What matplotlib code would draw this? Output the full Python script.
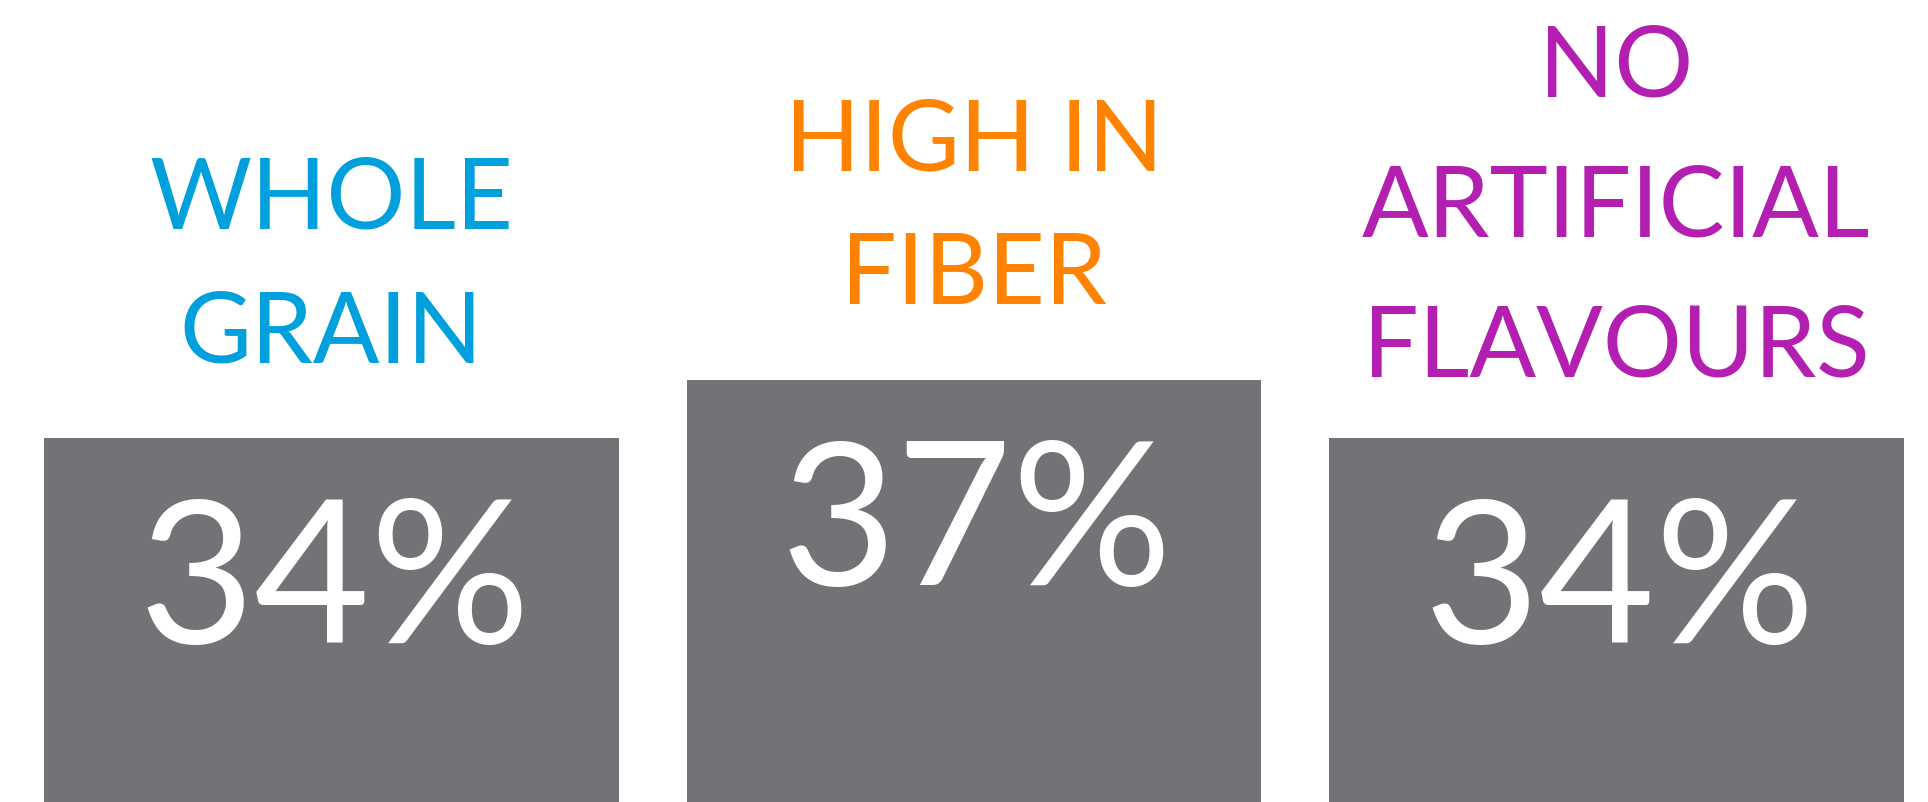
import matplotlib.pyplot as plt

categories = ["WHOLE\nGRAIN", "HIGH IN\nFIBER", "NO\nARTIFICIAL\nFLAVOURS"]
values = [34, 37, 34]
value_labels = ["34%", "37%", "34%"]
label_colors = ["#00A0DC", "#FF8200", "#B31FB0"]

BAR_COLOR = "#727377"
# gap above each bar (points) and line spacing of each heading
label_gaps = [42, 42, 32]
label_spacing = [1.6, 1.6, 1.68]

fig = plt.figure(figsize=(19.28, 8.02), dpi=100)
ax = fig.add_axes([0, 0, 1, 1])

x = range(len(categories))
bars = ax.bar(x, values, width=0.894, color=BAR_COLOR)

for i, bar in enumerate(bars):
    cx = bar.get_x() + bar.get_width() / 2
    top = bar.get_height()
    ax.annotate(value_labels[i], xy=(cx, top), xytext=(2, -107),
                textcoords="offset points", ha="center", va="center",
                color="white", fontsize=144, family=["Lato", "DejaVu Sans"])
    ax.annotate(categories[i], xy=(cx, top), xytext=(0, label_gaps[i]),
                textcoords="offset points", ha="center", va="bottom",
                color=label_colors[i], fontsize=71, linespacing=label_spacing[i],
                family=["Lato", "DejaVu Sans"])

ax.set_xlim(-0.516, 2.485)
ax.set_ylim(15.1, 56.7)
ax.axis("off")

fig.savefig("out.png", dpi=100, facecolor="white")
